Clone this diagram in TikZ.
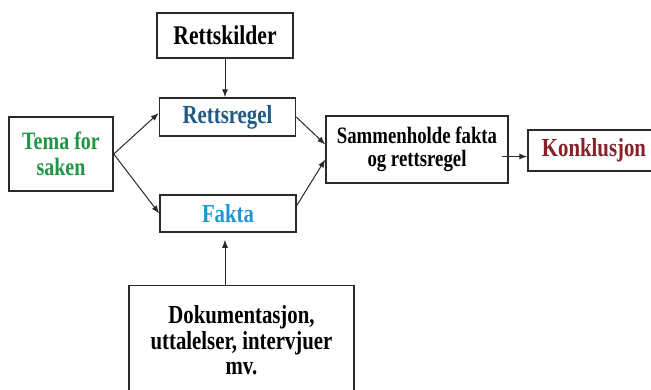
\documentclass[tikz,border=0pt]{standalone}
\usepackage{fontspec}
\setmainfont{Liberation Serif}[FakeStretch=0.8]
\usetikzlibrary{arrows.meta}
\definecolor{temagreen}{HTML}{1E9646}
\definecolor{regelblue}{HTML}{1F5A85}
\definecolor{faktablue}{HTML}{1E96D7}
\definecolor{konkred}{HTML}{8C1E28}
\definecolor{edgegray}{HTML}{2A2A2A}
\tikzset{
  box/.style={draw=edgegray, line width=1.5pt, fill=white, inner sep=0pt, align=center,
    font=\bfseries\fontsize{26}{25.5}\selectfont},
  conn/.style={draw=edgegray, line width=1pt, -{Latex[length=8pt,width=6pt]}}
}
\begin{document}
\begin{tikzpicture}[x=1pt,y=-1pt]
\useasboundingbox (0,0) rectangle (651,389);
\clip (0,0) rectangle (651,389);
\fill[white] (0,0) rectangle (651,389);
\node[box, minimum width=136pt, minimum height=45pt, font=\bfseries\fontsize{27}{27}\selectfont] (rk) at (225,35.5) {Rettskilder};
\node[box, minimum width=136pt, minimum height=38pt, text=regelblue] (rr) at (227.5,117) {Rettsregel};
\node[box, minimum width=104pt, minimum height=74pt, text=temagreen, font=\bfseries\fontsize{25}{26.5}\selectfont] (tema) at (61,154) {Tema for\\saken};
\node[box, minimum width=136pt, minimum height=37pt, text=faktablue] (fakta) at (228,213.5) {Fakta};
\node[box, minimum width=182pt, minimum height=67pt, font=\bfseries\fontsize{23.5}{23.5}\selectfont] (sam) at (417,149.5) {Sammenholde fakta\\og rettsregel};
\node[box, minimum width=132pt, minimum height=41pt, text=konkred] (konk) at (594,150.5) {Konklusjon};
\node[box, minimum width=225pt, minimum height=110pt] (dok) at (241.5,340.5) {Dokumentasjon,\\uttalelser, intervjuer\\mv.};
\draw[conn] (rk.south) -- (rk.south |- rr.north);
\draw[conn] (tema.east) -- ([yshift=4pt]rr.west);
\draw[conn] (tema.east) -- (fakta.west);
\draw[conn] (rr.east) -- ([yshift=5pt]sam.west);
\draw[conn] ([yshift=8pt]fakta.east) -- ([yshift=-10pt]sam.west);
\draw[conn] ([xshift=-7pt,yshift=-7pt]sam.east) -- ([yshift=-6pt]konk.west);
\draw[conn, shorten >=7pt] (rk.south |- dok.north) -- (rk.south |- fakta.south);
\end{tikzpicture}
\end{document}
